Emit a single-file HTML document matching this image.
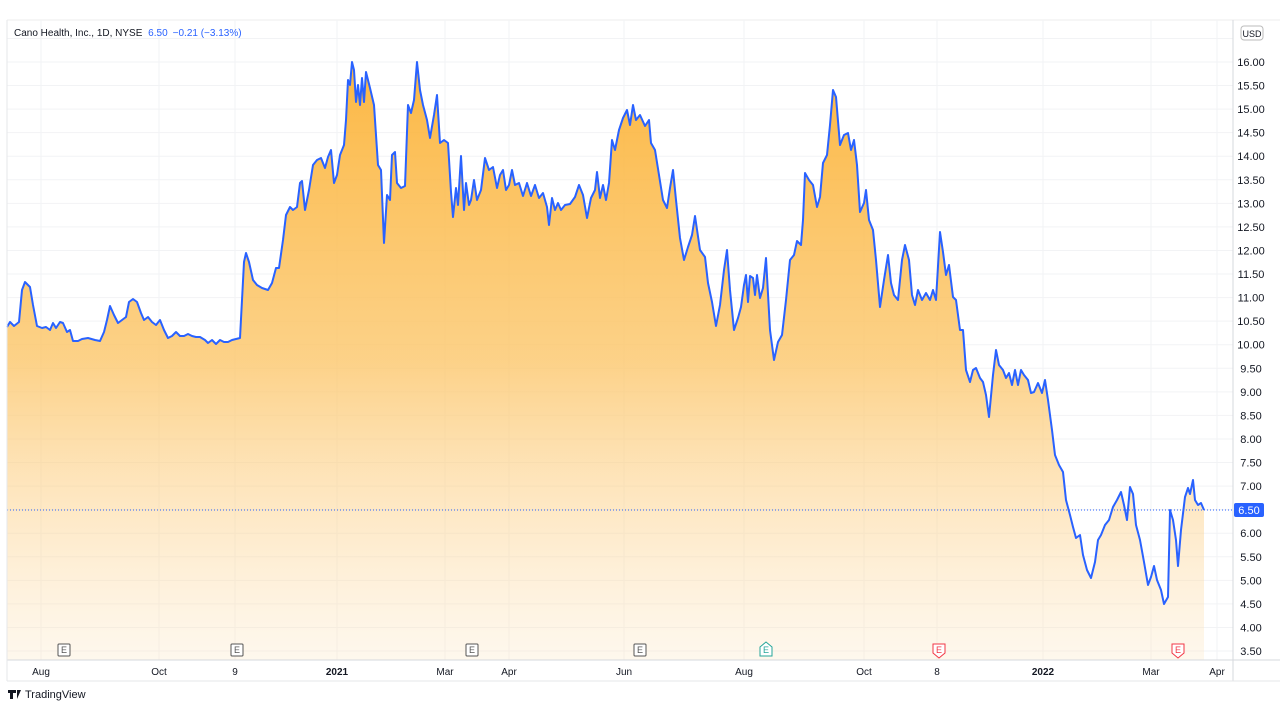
<!DOCTYPE html><html><head><style>
body{margin:0;background:#fff;font-family:"Liberation Sans",sans-serif}
</style></head><body>
<svg width="1280" height="709" xmlns="http://www.w3.org/2000/svg" font-family="Liberation Sans, sans-serif">
<defs><linearGradient id="g" x1="0" y1="0" x2="0" y2="1"><stop offset="0" stop-color="#fbb43a" stop-opacity="0.95"/><stop offset="0.5" stop-color="#fcc66a" stop-opacity="0.8"/><stop offset="1" stop-color="#fde2b8" stop-opacity="0.25"/></linearGradient></defs>
<rect x="0" y="0" width="1280" height="709" fill="#fff"/>
<line x1="7" y1="20" x2="1280" y2="20" stroke="#eee"/>
<g stroke="#f2f3f5" stroke-width="1" id="grid"></g>
<g id="hg" stroke="#f2f3f5"></g>
<path id="area" fill="url(#g)" stroke="none"/>
<path id="line" fill="none" stroke="#2962ff" stroke-width="2" stroke-linejoin="round"/>
<line x1="7" y1="510" x2="1233" y2="510" stroke="#2962ff" stroke-dasharray="1,2" stroke-width="1"/>
<line x1="1233" y1="20" x2="1233" y2="681" stroke="#d6d8dd"/>
<line x1="7" y1="660" x2="1280" y2="660" stroke="#d6d8dd"/>
<line x1="7" y1="681" x2="1280" y2="681" stroke="#e6e7ea"/>
<line x1="7" y1="20" x2="7" y2="681" stroke="#e6e7ea"/>
<g id="pl" font-size="11" fill="#131722" text-anchor="middle"></g>
<rect x="1234" y="503" width="30" height="14" rx="2" fill="#2962ff"/>
<text x="1249" y="514" font-size="11" fill="#fff" text-anchor="middle">6.50</text>
<rect x="1241" y="26" width="22" height="14" rx="3" fill="#fff" stroke="#bbb"/>
<text x="1252" y="37" font-size="9" fill="#131722" text-anchor="middle">USD</text>
<g font-size="10" fill="#131722" text-anchor="middle">
<text x="41" y="675">Aug</text><text x="159" y="675">Oct</text><text x="235" y="675">9</text><text x="337" y="675" font-weight="bold">2021</text><text x="445" y="675">Mar</text><text x="509" y="675">Apr</text><text x="624" y="675">Jun</text><text x="744" y="675">Aug</text><text x="864" y="675">Oct</text><text x="937" y="675">8</text><text x="1043" y="675" font-weight="bold">2022</text><text x="1151" y="675">Mar</text><text x="1217" y="675">Apr</text>
</g>
<g id="em" font-size="9" text-anchor="middle"></g>
<text x="14" y="36" font-size="10" fill="#131722">Cano Health, Inc., 1D, NYSE <tspan fill="#2962ff" dx="3">6.50</tspan><tspan fill="#2962ff" dx="5">−0.21 (−3.13%)</tspan></text>
<path d="M8 690h8v3h-3v6h-3v-6h-2z M17 690l4 0 -4 9z" fill="#131722"/>
<text x="25" y="698" font-size="11" fill="#131722">TradingView</text>
</svg>
<script>
var pts="7,327 10,322 14,326 19,322 22,290 25,282 30,287 33,305 37,326 42,328 46,327 50,330 53,323 56,328 60,322 63,323 67,332 70,330 73,341 78,341 82,339 88,338 95,340 100,341 104,332 107,320 110,306 114,315 118,323 122,320 126,317 129,302 133,299 137,302 141,313 144,320 148,317 152,322 156,325 160,320 164,330 168,338 172,336 176,332 180,336 184,336 188,334 192,336 196,337 200,337 205,340 208,343 212,340 216,344 220,340 224,342 228,342 232,340 240,338 244,262 246,253 249,262 253,280 257,285 262,288 268,290 272,283 276,268 279,268 283,240 286,215 290,207 293,210 297,207 300,183 302,181 305,210 309,190 313,165 317,160 321,158 325,168 328,157 331,150 334,183 337,175 340,155 344,145 346,120 348,80 350,85 352,62 354,70 356,102 358,85 360,105 362,78 364,102 366,72 370,88 374,105 378,165 381,170 384,243 387,195 390,200 392,155 395,152 397,183 401,188 405,186 408,105 411,113 414,100 417,62 420,90 423,105 427,120 430,138 434,115 437,95 440,143 444,140 448,143 451,192 453,217 456,188 458,205 461,156 464,210 466,183 469,205 471,200 474,180 477,200 481,190 485,158 489,170 493,167 497,188 500,175 503,170 506,190 509,185 512,170 515,185 519,183 523,196 527,183 531,196 535,185 539,198 543,193 547,207 549,225 552,198 555,210 558,203 561,210 565,205 570,204 575,197 579,185 583,195 587,218 591,198 595,190 597,172 600,198 603,185 606,200 609,183 612,140 615,150 619,130 623,118 627,110 630,125 633,105 636,120 640,115 645,126 649,120 651,143 655,150 659,175 663,200 667,208 670,188 673,170 676,200 680,238 684,260 688,247 692,235 695,216 700,250 705,257 708,283 712,302 716,326 720,305 724,270 727,250 730,290 734,330 738,318 741,307 744,285 746,275 748,302 750,276 753,278 755,295 757,275 760,298 763,288 766,258 770,330 774,360 778,342 782,335 786,300 790,260 794,255 797,241 801,245 803,220 805,173 809,180 813,185 817,207 820,197 823,163 827,155 830,125 833,90 836,97 840,145 844,135 848,133 851,150 854,140 857,165 860,212 864,203 866,190 869,220 873,230 876,260 880,307 884,280 888,255 891,283 894,295 898,300 902,260 905,245 909,260 912,295 915,305 918,290 922,300 926,293 930,300 933,290 936,300 940,232 943,252 946,275 949,265 953,297 956,300 960,330 963,330 966,370 970,382 973,370 976,368 980,378 983,382 986,395 989,417 993,375 996,350 999,365 1003,370 1006,378 1009,373 1012,385 1015,370 1018,385 1021,370 1024,375 1028,380 1031,393 1034,392 1038,383 1042,393 1045,380 1048,400 1052,430 1055,455 1059,465 1063,472 1066,500 1070,515 1073,527 1076,538 1080,535 1083,555 1087,570 1091,578 1095,562 1098,540 1101,535 1105,525 1109,520 1113,507 1117,500 1121,492 1124,505 1127,520 1130,487 1133,494 1136,525 1140,540 1144,562 1148,585 1151,577 1154,566 1157,580 1161,590 1164,604 1168,597 1170,510 1173,520 1176,540 1178,566 1181,530 1185,497 1188,488 1190,494 1193,480 1195,500 1198,505 1201,503 1204,510";
var d="M"+pts.split(" ").join(" L");
document.getElementById("line").setAttribute("d",d);
document.getElementById("area").setAttribute("d",d+" L1204,660 L7,660 Z");
var ns="http://www.w3.org/2000/svg";
function el(p,t,a,txt){var e=document.createElementNS(ns,t);for(var k in a)e.setAttribute(k,a[k]);if(txt)e.textContent=txt;p.appendChild(e);return e;}
var g=document.getElementById("grid");
[41,159,235,337,445,509,624,744,864,937,1043,1151,1217].forEach(function(x){el(g,"line",{x1:x,y1:20,x2:x,y2:660});});
var hg=document.getElementById("hg"),pl=document.getElementById("pl");
for(var i=0;i<=26;i++){var p=16.5-i*0.5;var y=62+(16-p)*47.12;if(y>20&&y<660){el(hg,"line",{x1:7,y1:y,x2:1233,y2:y});if(y>44&&Math.abs(y-510)>8)el(pl,"text",{x:1251,y:y+4},p.toFixed(2));}}
var em=document.getElementById("em");
[[64,"#555","n"],[237,"#555","n"],[472,"#555","n"],[640,"#555","n"],[766,"#26a69a","u"],[939,"#f23645","d"],[1178,"#f23645","d"]].forEach(function(m){var x=m[0],y=650;
if(m[2]=="n")el(em,"rect",{x:x-6,y:y-6,width:12,height:12,rx:1,fill:"#fff",stroke:m[1]});
else if(m[2]=="u")el(em,"path",{d:"M"+(x-6)+","+(y-3)+" L"+x+","+(y-8)+" L"+(x+6)+","+(y-3)+" V"+(y+6)+" H"+(x-6)+"Z",fill:"#fff",stroke:m[1]});
else el(em,"path",{d:"M"+(x-6)+","+(y-6)+" H"+(x+6)+" V"+(y+3)+" L"+x+","+(y+8)+" L"+(x-6)+","+(y+3)+"Z",fill:"#fff",stroke:m[1]});
el(em,"text",{x:x,y:y+3,fill:m[1]},"E");});
</script>
</body></html>
